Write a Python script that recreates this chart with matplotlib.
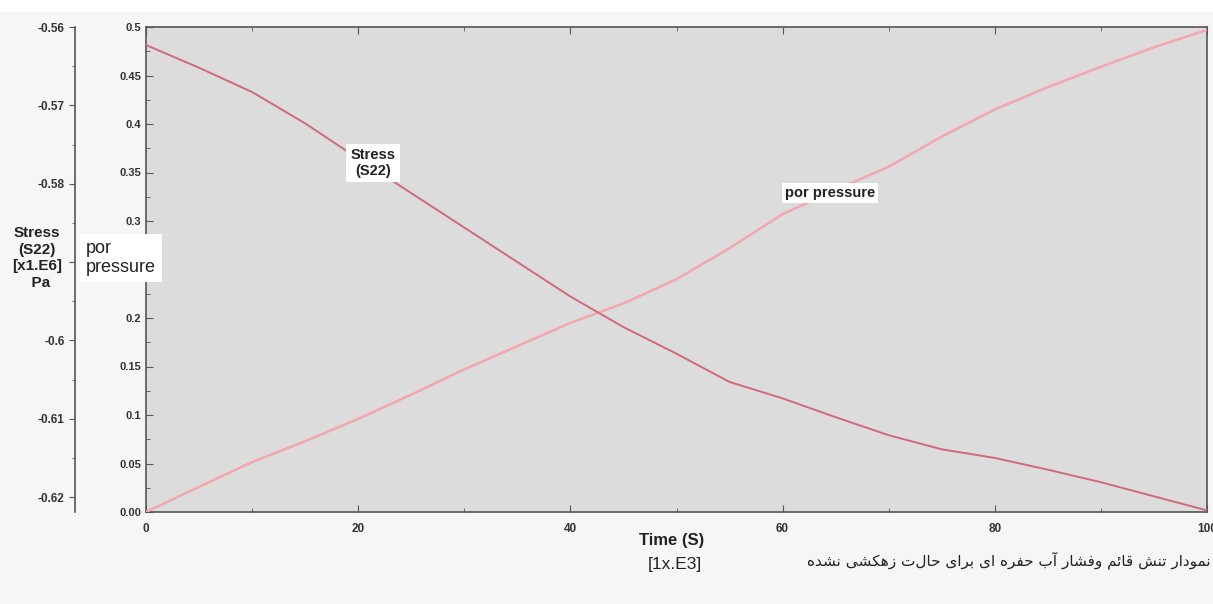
import matplotlib
matplotlib.use("Agg")
import matplotlib.pyplot as plt
from matplotlib.patches import Rectangle
from matplotlib.ticker import MultipleLocator, FixedLocator, FixedFormatter

# time axis (x 1E3 s)
time = [0, 5, 10, 15, 20, 25, 30, 35, 40, 45, 50, 55, 60, 65, 70, 75, 80, 85, 90, 95, 100]

# stress S22 (x 1E6 Pa)
stress = [-0.5623, -0.5652, -0.5683, -0.5723, -0.5768, -0.5812, -0.5856, -0.5900,
          -0.5944, -0.5983, -0.6017, -0.6053, -0.6074, -0.6098, -0.6121, -0.6139,
          -0.6150, -0.6165, -0.6181, -0.6199, -0.6217]

# pore pressure
por = [0.0, 0.026, 0.0514, 0.073, 0.096, 0.121, 0.147, 0.171, 0.195, 0.215, 0.240,
       0.272, 0.307, 0.332, 0.356, 0.387, 0.415, 0.438, 0.459, 0.479, 0.497]

por_ticks = [0.0, 0.05, 0.1, 0.15, 0.2, 0.25, 0.3, 0.35, 0.4, 0.45, 0.5]
por_labels = ["0.00", "0.05", "0.1", "0.15", "0.2", "", "0.3", "0.35", "0.4", "0.45", "0.5"]
stress_ticks = [-0.62, -0.61, -0.60, -0.59, -0.58, -0.57, -0.56]
stress_labels = ["-0.62", "-0.61", "-0.6", "", "-0.58", "-0.57", "-0.56"]
time_ticks = [0, 20, 40, 60, 80, 100]

caption = "نمودار تنش قائم وفشار آب حفره ای برای حالت زهکشی نشده"

# persian letters -> (isolated, final, initial, medial); 2-tuple = joins only on the right
FORMS = {
    "ا": ("\uFE8D", "\uFE8E"), "آ": ("\uFE81", "\uFE82"),
    "د": ("\uFEA9", "\uFEAA"), "ر": ("\uFEAD", "\uFEAE"),
    "ز": ("\uFEAF", "\uFEB0"), "و": ("\uFEED", "\uFEEE"),
    "ب": ("\uFE8F", "\uFE90", "\uFE91", "\uFE92"),
    "ت": ("\uFE95", "\uFE96", "\uFE97", "\uFE98"),
    "ح": ("\uFEA1", "\uFEA2", "\uFEA3", "\uFEA4"),
    "ش": ("\uFEB5", "\uFEB6", "\uFEB7", "\uFEB8"),
    "ف": ("\uFED1", "\uFED2", "\uFED3", "\uFED4"),
    "ق": ("\uFED5", "\uFED6", "\uFED7", "\uFED8"),
    "م": ("\uFEE1", "\uFEE2", "\uFEE3", "\uFEE4"),
    "ن": ("\uFEE5", "\uFEE6", "\uFEE7", "\uFEE8"),
    "ه": ("\uFEE9", "\uFEEA", "\uFEEB", "\uFEEC"),
    "ئ": ("\uFE89", "\uFE8A", "\uFE8B", "\uFE8C"),
    "ی": ("\uFBFC", "\uFBFD", "\uFBFE", "\uFBFF"),
    "ک": ("\uFB8E", "\uFB8F", "\uFB90", "\uFB91"),
}


def shape_rtl(s):
    out = []
    for i, c in enumerate(s):
        if c not in FORMS:
            out.append(c)
            continue
        f = FORMS[c]
        prev = s[i - 1] if i > 0 else ""
        nxt = s[i + 1] if i + 1 < len(s) else ""
        join_prev = prev in FORMS and len(FORMS[prev]) == 4
        join_next = len(f) == 4 and nxt in FORMS
        if join_prev and join_next:
            out.append(f[3])
        elif join_prev:
            out.append(f[1])
        elif join_next:
            out.append(f[2])
        else:
            out.append(f[0])
    return "".join(out)[::-1]


plt.rcParams['font.family'] = ['Liberation Sans', 'DejaVu Sans']

W, H = 1213, 604
fig = plt.figure(figsize=(W / 100, H / 100), dpi=100, facecolor="#f6f6f6")
# white strip along the top
fig.patches.append(Rectangle((0, 1 - 12 / H), 1, 12 / H, transform=fig.transFigure,
                             facecolor="white", edgecolor="none", zorder=0))

# main axes = por pressure
ax = fig.add_axes([146 / W, 1 - 512 / H, (1207 - 146) / W, (512 - 27) / H])
ax.set_facecolor("#dcdcdc")
ax.set_xlim(0, 100)
ax.set_ylim(0, 0.5)
ax.plot(time, por, color="#f2a7ae", lw=1.8, zorder=3)

ax.xaxis.set_major_locator(FixedLocator(time_ticks))
ax.xaxis.set_minor_locator(MultipleLocator(10))
ax.yaxis.set_major_locator(FixedLocator(por_ticks))
ax.yaxis.set_major_formatter(FixedFormatter(por_labels))
ax.yaxis.set_minor_locator(MultipleLocator(0.025))
ax.tick_params(which="both", direction="in", top=True, right=True, colors="#555555",
               labelcolor="#333333", labelsize=8)
ax.tick_params(which="major", length=5, width=0.8)
ax.tick_params(which="minor", length=3, width=0.6)
ax.tick_params(axis="x", pad=8, labelsize=8.5)
for t in ax.get_xticklabels() + ax.get_yticklabels():
    t.set_fontweight("bold")
for s in ax.spines.values():
    s.set_color("#555555")
    s.set_linewidth(1.2)

# second axes = stress, its spine moved to the left
ax2 = ax.twinx()
ax2.set_ylim(-0.6219, -0.56)
ax2.plot(time, stress, color="#d06a7b", lw=1.4, zorder=3)
ax2.spines["left"].set_visible(True)
ax2.spines["left"].set_position(("axes", (75 - 146) / (1207 - 146)))
ax2.spines["right"].set_visible(False)
ax2.spines["top"].set_visible(False)
ax2.spines["bottom"].set_visible(False)
ax2.spines["left"].set_color("#555555")
ax2.spines["left"].set_linewidth(1.2)
ax2.yaxis.set_ticks_position("left")
ax2.yaxis.set_major_locator(FixedLocator(stress_ticks))
ax2.yaxis.set_major_formatter(FixedFormatter(stress_labels))
ax2.yaxis.set_minor_locator(MultipleLocator(0.005))
ax2.tick_params(which="both", direction="out", colors="#555555", labelcolor="#333333",
                labelsize=8.5)
ax2.tick_params(which="major", length=4, width=0.8)
ax2.tick_params(which="minor", length=2, width=0.6)
for t in ax2.get_yticklabels():
    t.set_fontweight("bold")

# axis titles
fig.text(37 / W, 1 - 258 / H, "Stress\n(S22)\n[x1.E6]\n  Pa", ha="center", va="center",
         fontsize=11, fontweight="bold", linespacing=1.25, color="#222222")
fig.text(86 / W, 1 - 258 / H, "por\npressure", ha="left", va="center", fontsize=13,
         linespacing=1.1, color="#222222", zorder=5,
         bbox=dict(facecolor="white", edgecolor="none", boxstyle="square,pad=0.35"))
fig.text(672 / W, 1 - 541 / H, "Time (S)", ha="center", va="center", fontsize=12,
         fontweight="bold", color="#222222")
fig.text(675 / W, 1 - 564 / H, "[1x.E3]", ha="center", va="center", fontsize=12.5,
         color="#222222")
fig.text(1211 / W, 1 - 560 / H, shape_rtl(caption), ha="right", va="center", fontsize=11,
         family=["DejaVu Sans"], color="#222222")

# curve labels
fig.text(373 / W, 1 - 163 / H, "Stress\n(S22)", ha="center", va="center", fontsize=10.5,
         fontweight="bold", linespacing=1.2, color="#222222",
         bbox=dict(facecolor="white", edgecolor="none", pad=3))
fig.text(830 / W, 1 - 193 / H, "por pressure", ha="center", va="center", fontsize=10.5,
         fontweight="bold", color="#222222",
         bbox=dict(facecolor="white", edgecolor="none", pad=2))

fig.savefig("out.png", dpi=100, facecolor=fig.get_facecolor())
